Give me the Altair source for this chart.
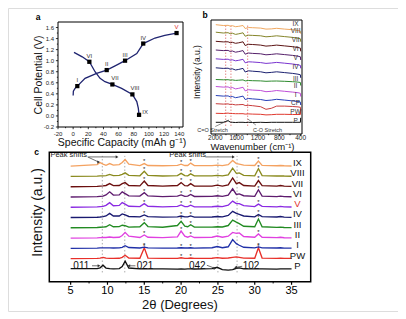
import altair as alt
import pandas as pd

FONT = "Liberation Sans"
W, H = 390, 303

# ---------------- panel a: charge / discharge ----------------
charge_cap = [0.0, 0.3, 2.5, 5.5, 15.7, 31.0, 44.3, 56.0, 68.5, 84.0, 89.7, 92.5, 108.0, 121.0, 136.5]
charge_v = [0.37, 0.45, 0.50, 0.54, 0.68, 0.77, 0.83, 0.91, 1.00, 1.13, 1.25, 1.31, 1.41, 1.46, 1.50]
discharge_cap = [1.1, 12.0, 21.4, 28.9, 35.5, 42.0, 51.8, 64.0, 78.2, 84.0, 86.0, 87.0]
discharge_v = [1.15, 1.07, 0.98, 0.80, 0.68, 0.62, 0.57, 0.50, 0.39, 0.26, 0.14, 0.02]
state_labels = ["I", "II", "III", "IV", "V", "VI", "VII", "VIII", "IX"]
state_cap = [5.5, 44.3, 68.5, 92.5, 136.5, 21.4, 51.8, 78.2, 87.0]
state_v = [0.54, 0.83, 1.00, 1.31, 1.50, 0.98, 0.57, 0.39, 0.02]
a_xticks = [-20, 0, 20, 40, 60, 80, 100, 120, 140]
a_xtick_labels = ["-20", "0", "20", "40", "60", "80", "100", "120", "140"]
a_xminor = [-10, 10, 30, 50, 70, 90, 110, 130]
a_yticks = [-0.2, 0.0, 0.2, 0.4, 0.6, 0.8, 1.0, 1.2, 1.4, 1.6]
a_ytick_labels = ["-0.2", "0.0", "0.2", "0.4", "0.6", "0.8", "1.0", "1.2", "1.4", "1.6"]
a_yminor = [-0.1, 0.1, 0.3, 0.5, 0.7, 0.9, 1.1, 1.3, 1.5]

# ---------------- panel b: FTIR ----------------
ftir_names = ["P", "PW", "CP", "I", "II", "III", "IV", "V", "VI", "VII", "VIII", "IX"]
ftir_offsets = [11.7, 20.7, 30.3, 38.5, 47.5, 54.5, 66.2, 75.2, 84.0, 92.7, 101.8, 109.3]
ftir_colors = ["#111111", "#e03a30", "#c83c3c", "#2840b8", "#c04fd8", "#2e8b2e",
               "#1c2170", "#7a35d0", "#55206a", "#5c1414", "#85852a", "#f0a860"]
wavenumber = [1990, 1850, 1760, 1720, 1680, 1620, 1560, 1480, 1440, 1380, 1300, 1150, 1050, 950, 850, 700, 550, 450, 405, 400]
ftir_shapes = {
    "P":    [0, 0.0, 1.6, 0.2, 0.0, -0.2, 0.0, 0.0, -0.2, 0.0, -0.2, 0.0, -0.2, 0.0, 0.0, 0.0, 0.0, 0.0, 0.0, 4.5],
    "PW":   [0, -0.2, 0.2, -0.2, -0.2, -0.4, -0.4, -0.4, -0.8, -0.6, -0.8, -1.0, -1.6, -1.4, -1.0, -1.0, -1.2, -1.2, -1.2, 4.0],
    "CP":   [0, -0.4, -0.2, -0.8, -0.6, -1.2, -1.0, -0.8, -1.8, -1.6, -2.0, -3.0, -5.6, -4.6, -2.4, -2.4, -2.8, -3.2, -3.6, -7.0],
    "I":    [0, -0.6, -0.4, -1.4, -1.0, -2.2, -1.6, -0.6, -4.0, -3.0, -3.4, -4.0, -5.0, -4.6, -3.8, -4.6, -5.4, -6.0, -6.6, -9.5],
    "II":   [0, -0.6, -0.4, -1.5, -1.0, -2.4, -1.8, -0.8, -4.4, -3.2, -3.6, -4.0, -5.2, -4.8, -4.0, -4.8, -5.6, -6.2, -6.8, -10.0],
    "III":  [0, -0.3, -0.2, -0.6, -0.4, -0.9, -0.7, -0.4, -1.4, -1.0, -1.2, -1.4, -1.8, -1.6, -1.5, -1.8, -2.2, -2.6, -3.0, -6.0],
    "IV":   [0, -0.6, -0.4, -1.4, -1.0, -2.2, -1.6, -0.6, -4.2, -3.0, -3.4, -4.0, -5.0, -4.6, -4.0, -4.8, -5.6, -6.4, -7.0, -10.0],
    "V":    [0, -0.6, -0.4, -1.4, -1.0, -2.0, -1.5, -0.5, -4.0, -3.0, -3.2, -3.8, -4.6, -4.2, -3.6, -4.4, -5.2, -6.0, -6.6, -9.5],
    "VI":   [0, -0.6, -0.4, -1.5, -1.0, -2.2, -1.6, -0.6, -4.2, -3.0, -3.4, -3.8, -4.8, -4.4, -3.8, -4.6, -5.4, -6.2, -6.8, -10.0],
    "VII":  [0, -0.6, -0.5, -1.4, -1.0, -2.0, -1.5, -0.5, -4.2, -3.0, -3.2, -3.8, -4.8, -4.4, -3.8, -4.6, -5.4, -6.2, -6.8, -10.0],
    "VIII": [0, -0.8, -0.5, -1.5, -1.0, -2.2, -1.6, -0.6, -4.0, -3.0, -3.2, -3.6, -4.6, -4.2, -3.6, -4.4, -5.2, -6.0, -6.6, -9.5],
    "IX":   [0, -0.8, -0.6, -1.4, -1.0, -2.0, -1.6, -0.8, -3.8, -2.8, -3.0, -3.4, -4.4, -4.2, -3.6, -4.4, -5.0, -5.8, -6.4, -9.0],
}
ftir_guides = [1805, 1706, 1393]
ftir_notes = ["C=O Stretch", "C-O Stretch"]
ftir_note_wn = [2052, 1021]
ftir_note_y = [4, 4]
ftir_arrow = {"x0": [2000, 1240], "y0": [7.5, 9.0], "x1": [1745, 1390], "y1": [14.0, 15.0]}
b_xticks = [2000, 1600, 1200, 800, 400]
b_xtick_labels = ["2000", "1600", "1200", "800", "400"]
b_xminor = [1800, 1400, 1000, 600]

# ---------------- panel c: XRD ----------------
xrd_names = ["P", "PW", "I", "II", "III", "IV", "V", "VI", "VII", "VIII", "IX"]
xrd_colors = ["#111111", "#e8302a", "#2030a8", "#e040e0", "#228b22", "#191970",
              "#8a2be2", "#5e1b6e", "#6b0f0f", "#8a8a1e", "#f4a261"]
two_theta = [5, 8.6, 9.0, 9.4, 9.8, 10.3, 10.8, 11.6, 12.0, 12.4, 12.9, 14.4, 15.0, 15.5, 17.5, 19.5,
             20.0, 20.5, 20.9, 21.3, 21.8, 24.2, 24.9, 25.6, 26.4, 27.0, 27.5, 27.9, 28.5, 30.0, 30.5,
             31.0, 33.0, 33.5, 34.0, 35.0]
xrd = {
    "P":    [0.02, 0.03, 0.10, 0.35, 0.08, 0.02, 0.00, 0.03, 0.22, 0.75, 0.08, 0.00, 0.02, 0.00, 0.00, -0.02, 0.00, -0.02, 0.00, 0.00, -0.01, 0.03, 0.15, -0.08, -0.12, -0.08, 0.06, 0.10, 0.00, 0.00, 0.00, 0.00, -0.02, 0.00, 0.00, 0.00],
    "PW":   [0.00, 0.02, 0.05, 0.12, 0.04, 0.02, 0.02, 0.03, 0.12, 0.32, 0.06, 0.03, 1.05, 0.05, 0.02, 0.02, 0.08, 0.02, 0.02, 0.06, 0.02, 0.03, 0.10, 0.03, 0.06, 0.12, 0.16, 0.12, 0.04, 0.03, 1.05, 0.05, 0.02, 0.04, 0.02, 0.02],
    "I":    [0.00, 0.02, 0.04, 0.05, 0.04, 0.05, 0.03, 0.04, 0.10, 0.25, 0.08, 0.03, 0.12, 0.04, 0.02, 0.03, 0.06, 0.03, 0.03, 0.06, 0.02, 0.06, 0.18, 0.06, 0.15, 0.85, 0.45, 0.30, 0.10, 0.04, 0.14, 0.04, 0.03, 0.06, 0.02, 0.02],
    "II":   [0.00, 0.02, 0.04, 0.06, 0.05, 0.10, 0.05, 0.08, 0.25, 0.55, 0.18, 0.05, 0.30, 0.08, 0.04, 0.12, 0.68, 0.18, 0.08, 0.20, 0.05, 0.08, 0.20, 0.08, 0.18, 0.55, 0.45, 0.50, 0.15, 0.08, 0.40, 0.08, 0.04, 0.08, 0.03, 0.02],
    "III":  [0.00, 0.03, 0.05, 0.06, 0.10, 0.30, 0.10, 0.12, 0.25, 0.20, 0.06, 0.10, 0.50, 0.12, 0.05, 0.22, 0.62, 0.15, 0.10, 0.30, 0.06, 0.06, 0.10, 0.08, 0.22, 0.75, 0.55, 0.40, 0.15, 0.10, 0.85, 0.10, 0.04, 0.06, 0.03, 0.02],
    "IV":   [0.00, 0.03, 0.05, 0.08, 0.15, 0.40, 0.15, 0.15, 0.35, 0.25, 0.10, 0.06, 0.25, 0.08, 0.04, 0.06, 0.15, 0.06, 0.06, 0.15, 0.04, 0.05, 0.10, 0.06, 0.20, 0.60, 0.40, 0.30, 0.15, 0.06, 0.30, 0.08, 0.05, 0.10, 0.04, 0.02],
    "V":    [0.00, 0.03, 0.06, 0.08, 0.18, 0.45, 0.15, 0.18, 0.45, 0.30, 0.10, 0.06, 0.35, 0.10, 0.04, 0.08, 0.22, 0.06, 0.06, 0.20, 0.04, 0.05, 0.10, 0.06, 0.20, 0.60, 0.35, 0.35, 0.15, 0.06, 0.30, 0.08, 0.04, 0.08, 0.04, 0.02],
    "VI":   [0.00, 0.03, 0.06, 0.08, 0.20, 0.50, 0.18, 0.20, 0.50, 0.32, 0.10, 0.08, 0.42, 0.10, 0.04, 0.08, 0.20, 0.06, 0.08, 0.25, 0.05, 0.06, 0.12, 0.06, 0.18, 0.80, 0.25, 0.30, 0.12, 0.06, 0.70, 0.08, 0.04, 0.08, 0.04, 0.02],
    "VII":  [0.00, 0.03, 0.06, 0.08, 0.12, 0.30, 0.10, 0.12, 0.30, 0.40, 0.12, 0.08, 0.55, 0.12, 0.05, 0.12, 0.40, 0.10, 0.08, 0.30, 0.06, 0.06, 0.15, 0.06, 0.18, 0.85, 0.30, 0.40, 0.12, 0.06, 0.60, 0.10, 0.06, 0.12, 0.05, 0.03],
    "VIII": [0.00, 0.03, 0.05, 0.06, 0.08, 0.20, 0.08, 0.10, 0.20, 0.35, 0.10, 0.06, 0.50, 0.10, 0.04, 0.08, 0.30, 0.08, 0.06, 0.25, 0.05, 0.05, 0.10, 0.05, 0.15, 0.80, 0.30, 0.35, 0.10, 0.06, 0.75, 0.08, 0.04, 0.06, 0.04, 0.02],
    "IX":   [0.00, 0.15, 0.35, 0.20, 0.08, 0.25, 0.10, 0.15, 0.35, 0.65, 0.20, 0.06, 0.25, 0.06, 0.04, 0.08, 0.20, 0.06, 0.06, 0.30, 0.05, 0.05, 0.10, 0.05, 0.15, 0.55, 0.25, 0.20, 0.10, 0.06, 0.50, 0.08, 0.04, 0.06, 0.04, 0.02],
}
star_angles = [15.0, 20.0, 21.3, 30.5]
xrd_guides = [9.3, 12.35, 25.0, 27.6]
hkl_labels = ["011", "021", "042", "102"]
hkl_x = [6.45, 15.1, 22.2, 29.5]
hkl_y = [0.28, 0.28, 0.28, 0.28]
shift_labels = ["Peak shifts", "Peak shifts"]
shift_x = [2.25, 18.4]
shift_y = [11.05, 11.05]
xrd_arrows = {
    "x0": [7.9, 13.8, 23.5, 28.3, 7.4, 7.3, 23.3],
    "y0": [0.30, 0.30, 0.35, 0.25, 10.9, 10.9, 10.9],
    "x1": [8.85, 12.9, 24.6, 27.4, 11.3, 8.8, 27.1],
    "y1": [0.30, 0.30, 0.05, 0.15, 10.9, 10.4, 10.9],
}
arrow_heads = ["triangle-right", "triangle-left", "triangle-right", "triangle-left",
               "triangle-right", "triangle-right", "triangle-right"]
c_xticks = [5, 10, 15, 20, 25, 30, 35]
c_xtick_labels = ["5", "10", "15", "20", "25", "30", "35"]
c_xminor = [7.5, 12.5, 17.5, 22.5, 27.5, 32.5]


def frame(xd, yd, xs, ys, sw):
    df = pd.DataFrame({"x0": [xd[0]], "x1": [xd[1]], "y0": [yd[0]], "y1": [yd[1]]})
    return alt.Chart(df).mark_rect(fillOpacity=0, stroke="black", strokeWidth=sw).encode(
        x=alt.X("x0:Q", scale=xs, axis=None), x2="x1:Q",
        y=alt.Y("y0:Q", scale=ys, axis=None), y2="y1:Q")


def x_ticks(xs, ys, vals, base, length, sw=0.8):
    df = pd.DataFrame({"x": vals, "y0": [base] * len(vals), "y1": [base - length] * len(vals)})
    return alt.Chart(df).mark_rule(color="black", strokeWidth=sw).encode(
        x=alt.X("x:Q", scale=xs, axis=None), y=alt.Y("y0:Q", scale=ys, axis=None), y2="y1:Q")


def y_ticks(xs, ys, vals, base, length, sw=0.8):
    df = pd.DataFrame({"y": vals, "x0": [base] * len(vals), "x1": [base - length] * len(vals)})
    return alt.Chart(df).mark_rule(color="black", strokeWidth=sw).encode(
        y=alt.Y("y:Q", scale=ys, axis=None), x=alt.X("x0:Q", scale=xs, axis=None), x2="x1:Q")


def x_labels(xs, ys, vals, labs, base, size, dy, color="#222"):
    df = pd.DataFrame({"x": vals, "t": labs, "y": [base] * len(vals)})
    return alt.Chart(df).mark_text(baseline="top", dy=dy, fontSize=size, font=FONT, color=color).encode(
        x=alt.X("x:Q", scale=xs, axis=None), y=alt.Y("y:Q", scale=ys, axis=None), text="t:N")


def y_labels(xs, ys, vals, labs, base, size, dx, color="#222"):
    df = pd.DataFrame({"y": vals, "t": labs, "x": [base] * len(vals)})
    return alt.Chart(df).mark_text(align="right", baseline="middle", dx=dx, fontSize=size, font=FONT,
                                   color=color).encode(
        x=alt.X("x:Q", scale=xs, axis=None), y=alt.Y("y:Q", scale=ys, axis=None), text="t:N")


def note(t, px, py, size, angle=0, weight="normal", color="#111"):
    return alt.Chart(pd.DataFrame({"t": [t]})).mark_text(
        fontSize=size, fontWeight=weight, font=FONT, color=color, angle=angle,
        align="center", baseline="middle").encode(x=alt.value(px), y=alt.value(py), text="t:N")


# ================= panel a =================
a_xd, a_yd = [-20, 145], [-0.2, 1.7]
a_xs = alt.Scale(domain=a_xd, range=[50, 175], nice=False, zero=False)
a_ys = alt.Scale(domain=a_yd, range=[119, 14], nice=False, zero=False)
df_ch = pd.DataFrame({"cap": charge_cap, "v": charge_v, "i": range(len(charge_cap))})
df_dis = pd.DataFrame({"cap": discharge_cap, "v": discharge_v, "i": range(len(discharge_cap))})
df_st = pd.DataFrame({"lab": state_labels, "cap": state_cap, "v": state_v})

a_line1 = alt.Chart(df_ch).mark_line(color="#1f2470", strokeWidth=1.3).encode(
    x=alt.X("cap:Q", scale=a_xs, axis=None), y=alt.Y("v:Q", scale=a_ys, axis=None), order="i:Q")
a_line2 = alt.Chart(df_dis).mark_line(color="#1f2470", strokeWidth=1.3).encode(
    x=alt.X("cap:Q", scale=a_xs, axis=None), y=alt.Y("v:Q", scale=a_ys, axis=None), order="i:Q")
a_pts = alt.Chart(df_st).mark_point(shape="square", filled=True, color="black", size=18, opacity=1).encode(
    x=alt.X("cap:Q", scale=a_xs, axis=None), y=alt.Y("v:Q", scale=a_ys, axis=None))
lab_color = alt.condition(alt.datum.lab == "V", alt.value("#e0302a"), alt.value("#333"))


def a_labels(names, dx, dy):
    return alt.Chart(df_st).transform_filter(alt.FieldOneOfPredicate(field="lab", oneOf=names)).mark_text(
        fontSize=6, font=FONT, dx=dx, dy=dy).encode(
        x=alt.X("cap:Q", scale=a_xs, axis=None), y=alt.Y("v:Q", scale=a_ys, axis=None),
        text="lab:N", color=lab_color)


panel_a = alt.layer(
    a_line1, a_line2, a_pts,
    a_labels(["I", "II", "III", "IV", "V", "VI"], 0, -6),
    a_labels(["VII", "VIII"], 2.5, -6),
    a_labels(["IX"], 6, -3),
    x_ticks(a_xs, a_ys, a_xticks, -0.2, 0.04),
    x_ticks(a_xs, a_ys, a_xminor, -0.2, 0.022),
    y_ticks(a_xs, a_ys, a_yticks, -20, 2.8),
    y_ticks(a_xs, a_ys, a_yminor, -20, 1.5),
    x_labels(a_xs, a_ys, a_xticks, a_xtick_labels, -0.2, 6, 3.5),
    y_labels(a_xs, a_ys, a_yticks, a_ytick_labels, -20, 6, -4),
    frame(a_xd, a_yd, a_xs, a_ys, 1))

# ================= panel b =================
b_xd, b_yd = [2080, 375], [0, 114]
b_xs = alt.Scale(domain=b_xd, range=[203, 294], nice=False, zero=False)
b_ys = alt.Scale(domain=b_yd, range=[126, 12], nice=False, zero=False)
rows = []
for n, off in zip(ftir_names, ftir_offsets):
    for i, (w, s) in enumerate(zip(wavenumber, ftir_shapes[n])):
        rows.append({"name": n, "x": w, "y": off + s, "i": i})
df_ftir = pd.DataFrame(rows)
df_ftir_lab = pd.DataFrame({"name": ftir_names, "x": [495] * len(ftir_names),
                            "y": [o + 1 for o in ftir_offsets]})

b_lines = alt.Chart(df_ftir).mark_line(strokeWidth=1).encode(
    x=alt.X("x:Q", scale=b_xs, axis=None), y=alt.Y("y:Q", scale=b_ys, axis=None),
    color=alt.Color("name:N", scale=alt.Scale(domain=ftir_names, range=ftir_colors), legend=None),
    detail="name:N", order="i:Q")
b_guides = alt.Chart(pd.DataFrame({"x": ftir_guides, "y0": [8] * 3, "y1": [110] * 3})).mark_rule(
    color="#e07070", strokeDash=[1.5, 1.5], strokeWidth=0.8).encode(
    x=alt.X("x:Q", scale=b_xs, axis=None), y=alt.Y("y0:Q", scale=b_ys, axis=None), y2="y1:Q")
b_labels = alt.Chart(df_ftir_lab).mark_text(fontSize=6.5, font=FONT, color="#333").encode(
    x=alt.X("x:Q", scale=b_xs, axis=None), y=alt.Y("y:Q", scale=b_ys, axis=None), text="name:N")
b_notes = alt.Chart(pd.DataFrame({"t": ftir_notes, "x": ftir_note_wn, "y": ftir_note_y})).mark_text(
    fontSize=5.5, font=FONT, color="#333").encode(
    x=alt.X("x:Q", scale=b_xs, axis=None), y=alt.Y("y:Q", scale=b_ys, axis=None), text="t:N")
b_arrows = alt.Chart(pd.DataFrame(ftir_arrow)).mark_rule(color="#444", strokeWidth=0.6).encode(
    x=alt.X("x0:Q", scale=b_xs, axis=None), x2="x1:Q",
    y=alt.Y("y0:Q", scale=b_ys, axis=None), y2="y1:Q")
panel_b = alt.layer(
    b_guides, b_lines, b_labels, b_notes, b_arrows,
    x_ticks(b_xs, b_ys, b_xticks, 0, 2.2),
    x_ticks(b_xs, b_ys, b_xminor, 0, 1.2),
    x_labels(b_xs, b_ys, b_xticks, b_xtick_labels, 0, 6.5, 0.8),
    frame(b_xd, b_yd, b_xs, b_ys, 1)).resolve_scale(color="independent")

# ================= panel c =================
c_xd, c_yd = [2.1, 37.6], [-1.25, 11.35]
c_xs = alt.Scale(domain=c_xd, range=[41.3, 302.7], nice=False, zero=False)
c_ys = alt.Scale(domain=c_yd, range=[273.7, 144.3], nice=False, zero=False)
rows, stars = [], []
for k, n in enumerate(xrd_names):
    for i, (t, v) in enumerate(zip(two_theta, xrd[n])):
        rows.append({"name": n, "x": t, "y": k + v, "i": i})
        if n != "P" and t in star_angles:
            stars.append({"x": t, "y": k + v + 0.5})
df_xrd = pd.DataFrame(rows)
df_stars = pd.DataFrame(stars)
df_xrd_lab = pd.DataFrame({"name": xrd_names, "x": [35.8] * len(xrd_names),
                           "y": [k + 0.3 for k in range(len(xrd_names))]})

c_lines = alt.Chart(df_xrd).mark_line(strokeWidth=1.35).encode(
    x=alt.X("x:Q", scale=c_xs, axis=None), y=alt.Y("y:Q", scale=c_ys, axis=None),
    color=alt.Color("name:N", scale=alt.Scale(domain=xrd_names, range=xrd_colors), legend=None),
    detail="name:N", order="i:Q")
c_guides = alt.Chart(pd.DataFrame({"x": xrd_guides, "y0": [-0.35] * 4, "y1": [11.0] * 4})).mark_rule(
    color="#999", strokeDash=[1.5, 2], strokeWidth=0.8).encode(
    x=alt.X("x:Q", scale=c_xs, axis=None), y=alt.Y("y0:Q", scale=c_ys, axis=None), y2="y1:Q")
c_stars = alt.Chart(df_stars).mark_text(text="*", fontSize=6, font=FONT, color="#222",
                                        baseline="top").encode(
    x=alt.X("x:Q", scale=c_xs, axis=None), y=alt.Y("y:Q", scale=c_ys, axis=None))
c_labels = alt.Chart(df_xrd_lab).mark_text(fontSize=9.5, font=FONT).encode(
    x=alt.X("x:Q", scale=c_xs, axis=None), y=alt.Y("y:Q", scale=c_ys, axis=None), text="name:N",
    color=alt.condition(alt.datum.name == "V", alt.value("#e0302a"), alt.value("#111")))
c_hkl = alt.Chart(pd.DataFrame({"t": hkl_labels, "x": hkl_x, "y": hkl_y})).mark_text(
    fontSize=10, font=FONT, color="#111").encode(
    x=alt.X("x:Q", scale=c_xs, axis=None), y=alt.Y("y:Q", scale=c_ys, axis=None), text="t:N")
c_shift = alt.Chart(pd.DataFrame({"t": shift_labels, "x": shift_x, "y": shift_y})).mark_text(
    fontSize=7.5, font=FONT, color="#222", align="left").encode(
    x=alt.X("x:Q", scale=c_xs, axis=None), y=alt.Y("y:Q", scale=c_ys, axis=None), text="t:N")
df_arr = pd.DataFrame(xrd_arrows)
df_arr["head"] = arrow_heads
c_arrows = alt.Chart(df_arr).mark_rule(color="#333", strokeWidth=0.7).encode(
    x=alt.X("x0:Q", scale=c_xs, axis=None), x2="x1:Q",
    y=alt.Y("y0:Q", scale=c_ys, axis=None), y2="y1:Q")
c_heads = alt.Chart(df_arr).mark_point(filled=True, size=10, color="#333", opacity=1).encode(
    x=alt.X("x1:Q", scale=c_xs, axis=None), y=alt.Y("y1:Q", scale=c_ys, axis=None),
    shape=alt.Shape("head:N", scale=None))
panel_c = alt.layer(
    c_guides, c_lines, c_stars, c_labels, c_hkl, c_shift, c_arrows, c_heads,
    x_ticks(c_xs, c_ys, c_xticks, -1.25, 0.3, 1.2),
    x_ticks(c_xs, c_ys, c_xminor, -1.25, 0.17, 1.0),
    x_labels(c_xs, c_ys, c_xticks, c_xtick_labels, -1.25, 11, 3, "#000"),
    frame(c_xd, c_yd, c_xs, c_ys, 1.5)).resolve_scale(color="independent")

# ================= titles and panel letters =================
chart = alt.layer(
    panel_a, panel_b, panel_c,
    note("a", 30, 9, 8.5, weight="bold", color="#000"),
    note("b", 197, 7, 8.5, weight="bold", color="#000"),
    note("c", 28.7, 144.3, 8.5, weight="bold", color="#000"),
    note("Specific Capacity (mAh g⁻¹)", 114, 134.7, 10.5),
    note("Cell Potential (V)", 31, 67, 10.5, angle=270),
    note("Wavenumber (cm⁻¹)", 244.5, 139.3, 9.5),
    note("Intensity (a.u.)", 188.7, 64, 8.5, angle=270),
    note("2θ (Degrees)", 172, 296.8, 13),
    note("Intensity (a.u.)", 30, 204.5, 14, angle=270),
).resolve_scale(
    x="independent", y="independent", color="independent", shape="independent"
).properties(width=W, height=H, padding=0).configure_view(stroke=None).configure(font=FONT)

chart.save("out.html", embed_options={"renderer": "svg", "actions": False})
